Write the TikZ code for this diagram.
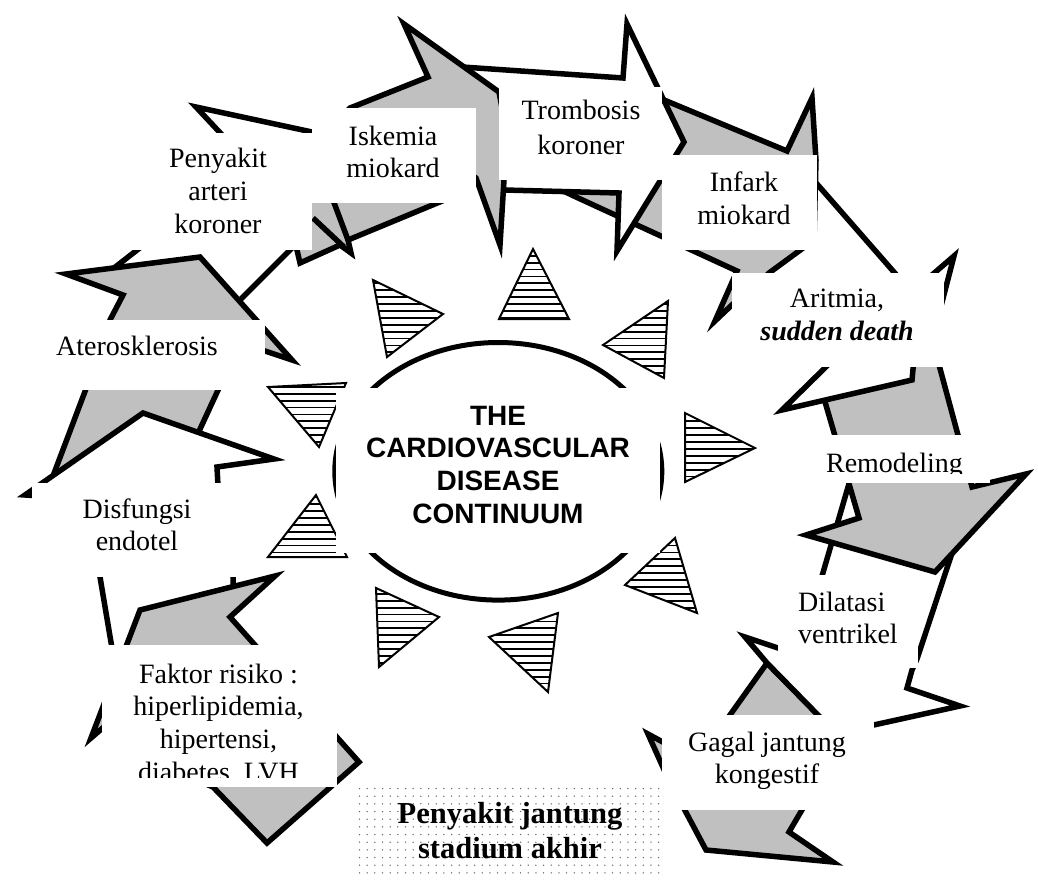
\documentclass[tikz,border=0pt]{standalone}
\usepackage{fontspec}
\setmainfont{Liberation Serif}
\newfontfamily\headfont{Liberation Sans}
\definecolor{arrowgray}{RGB}{192,192,192}
% hatched triangle: white fill, horizontal rules, thin outline
\newcommand{\hatchedtri}[3]{%
  \begin{scope}
    \clip #1 -- #2 -- #3 -- cycle;
    \fill[white] #1 -- #2 -- #3 -- cycle;
    \foreach \hy in {235,241.9,...,700}
      \draw[hatchline] (250,\hy) -- (770,\hy);
  \end{scope}
  \draw[triedge] #1 -- #2 -- #3 -- cycle;
}
\begin{document}
\begin{tikzpicture}[x=1pt,y=-1pt,line join=miter,
  garrow/.style={fill=arrowgray,draw=black,line width=5.5pt},
  warrow/.style={fill=white,draw=black,line width=5.5pt},
  heavyline/.style={draw=black,line width=5.5pt},
  labelbox/.style={fill=white},
  hatchline/.style={draw=black,line width=1.8pt},
  triedge/.style={draw=black,line width=2pt},
  lbl/.style={inner sep=0pt,anchor=base,font=\fontsize{28}{32}\selectfont},
  headlbl/.style={inner sep=0pt,anchor=base,font=\headfont\bfseries\fontsize{28}{32}\selectfont},
  endlbl/.style={inner sep=0pt,anchor=base,font=\bfseries\fontsize{30.5}{34}\selectfont}]

\useasboundingbox (0,0) rectangle (1038,880);
\fill[white] (0,0) rectangle (1038,880);

% ---------- block arrows of the cycle (back to front) ----------
% Aterosklerosis -> Penyakit arteri koroner (white)
\draw[warrow] (105,275) -- (150,240) -- (225,138) -- (196,107) -- (312,132)
  -- (330,160) -- (297,243) -- (230,310) -- cycle;
% Aterosklerosis (gray)
\draw[garrow] (66,274) -- (200,257) -- (292,360) -- (262,350) -- (225,375)
  -- (195,440) -- (50,484) -- (95,365) -- (110,320) -- (123,295) -- cycle;
% Disfungsi endotel (white)
\draw[warrow] (25,495) -- (143,413) -- (274,459) -- (217,467) -- (218,486)
  -- (233,570) -- (233,600) -- (200,700) -- (114,660) -- (100,577)
  -- (92,540) -- (40,496) -- cycle;
% Faktor risiko (gray)
\draw[garrow] (140,610) -- (275,576) -- (230,617) -- (359,762) -- (267,843)
  -- (213,787) -- (150,760) -- (112,720) -- (91,738) -- cycle;
% Infark -> Aritmia (white)
\draw[warrow] (810,176) -- (900,279) -- (925,281) -- (954,256) -- (940,310)
  -- (790,320) -- (765,282) -- (765,240) -- cycle;
% Trombosis -> Infark (gray)
\draw[garrow] (640,90) -- (787,151) -- (812,98) -- (816,160) -- (814,240)
  -- (769,273) -- (750,292) -- (735,302) -- (715,321) -- (737,271)
  -- (576,197) -- (540,180) -- cycle;
% Trombosis koroner (white)
\draw[warrow] (455,66.5) -- (623,78) -- (627,24) -- (684,142) -- (617,251)
  -- (619,193) -- (504,190) -- (490,120) -- cycle;
% Iskemia miokard (gray)
\draw[garrow] (404,24) -- (499,92) -- (508,140) -- (504,180) -- (500,245)
  -- (476,178) -- (465,170) -- (447,199) -- (348,240) -- (351,253)
  -- (340,245) -- (300,263) -- (297,250) -- (290,230) -- (320,140)
  -- (350,108) -- (428,77) -- cycle;
\draw[heavyline] (333,200) -- (348,240);
\draw[heavyline] (313,218) -- (344,247);
% Gagal jantung (gray)
\draw[garrow] (648,734) -- (672,747) -- (725,722) -- (767,663) -- (818,715)
  -- (830,765) -- (806,803) -- (789,832) -- (833,862) -- (706,850)
  -- (681,803) -- (670,783) -- cycle;
% Dilatasi ventrikel (white)
\draw[warrow] (853,470) -- (815,600) -- (790,652) -- (745,637) -- (767,663)
  -- (818,715) -- (830,727) -- (860,728) -- (960,706) -- (907,688)
  -- (912,670) -- (917,659) -- (952,553) -- (960,530) -- (880,478) -- cycle;
% Remodeling (gray)
\draw[garrow] (845,370) -- (823,395) -- (859,518) -- (806,535) -- (935,572)
  -- (1026,474) -- (972,487) -- (935,350) -- cycle;
% Aritmia -> Remodeling (white)
\draw[warrow] (782,410) -- (836,357) -- (914,358) -- (912,380) -- cycle;

% ---------- hatched pointers round the centre ----------
\hatchedtri{(373,280)}{(443,314)}{(387,357)}
\hatchedtri{(533,249)}{(499,319)}{(569,319)}
\hatchedtri{(668,301)}{(603,345)}{(664,378)}
\hatchedtri{(685,413)}{(755,448)}{(685,482)}
\hatchedtri{(675,538)}{(625,585)}{(697,613)}
\hatchedtri{(489,637)}{(558,613)}{(548,692)}
\hatchedtri{(376,588)}{(439,617)}{(379,667)}
\hatchedtri{(316,495)}{(268,557)}{(347,557)}
\hatchedtri{(268,387)}{(346,383)}{(319,447)}

% ---------- centre ----------
\draw[line width=5pt] (498.3,471.3) ellipse [x radius=163.5pt, y radius=128.8pt];
\fill[labelbox] (336,388) rectangle (660,553);
\node[headlbl] (cvdA) at (498,425.7) {THE};
\node[headlbl] (cvdB) at (498,457.3) {CARDIOVASCULAR};
\node[headlbl] (cvdC) at (498,490.7) {DISEASE};
\node[headlbl] (cvdD) at (498,523.3) {CONTINUUM};

% ---------- stage labels ----------
\fill[labelbox] (125,133) rectangle (312,250);
\node[lbl] (penA) at (218,167) {Penyakit};
\node[lbl] (penB) at (218,200) {arteri};
\node[lbl] (penC) at (218,233) {koroner};

\fill[labelbox] (312,108) rectangle (476,203);
\node[lbl] (iskA) at (393,145) {Iskemia};
\node[lbl] (iskB) at (393,177) {miokard};

\fill[labelbox] (499,87) rectangle (662,180);
\node[lbl] (troA) at (581,120) {Trombosis};
\node[lbl] (troB) at (581,154) {koroner};

\fill[labelbox] (662,155) rectangle (817,250);
\node[lbl] (infA) at (744,191.7) {Infark};
\node[lbl] (infB) at (744,224) {miokard};

\fill[labelbox] (732,273) rectangle (944,367);
\node[lbl] (ariA) at (837,307) {Aritmia,};
\node[lbl] (ariB) at (837,340.7) {\textbf{\textit{sudden death}}};

\fill[labelbox] (805,435) rectangle (990,483);
\begin{scope}
  \clip (805,435) rectangle (990,473.5);
  \node[lbl] (rem) at (894.5,472.5) {Remodeling};
\end{scope}

\fill[labelbox] (778,575) rectangle (918,668);
\node[lbl,anchor=base west] (dilA) at (798,611.7) {Dilatasi};
\node[lbl,anchor=base west] (dilB) at (798,643) {ventrikel};

\fill[labelbox] (662,715) rectangle (874,810);
\node[lbl] (gagA) at (767,751.7) {Gagal jantung};
\node[lbl] (gagB) at (767,783) {kongestif};

\fill[labelbox] (102,645) rectangle (337,787);
\begin{scope}
  \clip (102,645) rectangle (337,777);
  \node[lbl] (fakA) at (218.5,683) {Faktor risiko :};
  \node[lbl] (fakB) at (218.5,715.5) {hiperlipidemia,};
  \node[lbl] (fakC) at (218.5,748) {hipertensi,};
  \node[lbl] (fakD) at (218.5,781) {diabetes, LVH};
\end{scope}

\fill[labelbox] (32,483) rectangle (240,577);
\node[lbl] (disA) at (137,518) {Disfungsi};
\node[lbl] (disB) at (137,550) {endotel};

\fill[labelbox] (9,320) rectangle (265,390);
\node[lbl] (ate) at (137,355) {Aterosklerosis};

% ---------- end stage, dotted panel ----------
\fill[white] (358,787) rectangle (659,880);
\foreach \dx in {0,...,39}
  \foreach \dy in {0,...,12}
    \fill[black!60] (359.5+\dx*7.67,788.5+\dy*7.67) circle[radius=0.75pt];
\node[endlbl] (pjsA) at (510,823.3) {Penyakit jantung};
\node[endlbl] (pjsB) at (510,858.3) {stadium akhir};

\end{tikzpicture}
\end{document}
